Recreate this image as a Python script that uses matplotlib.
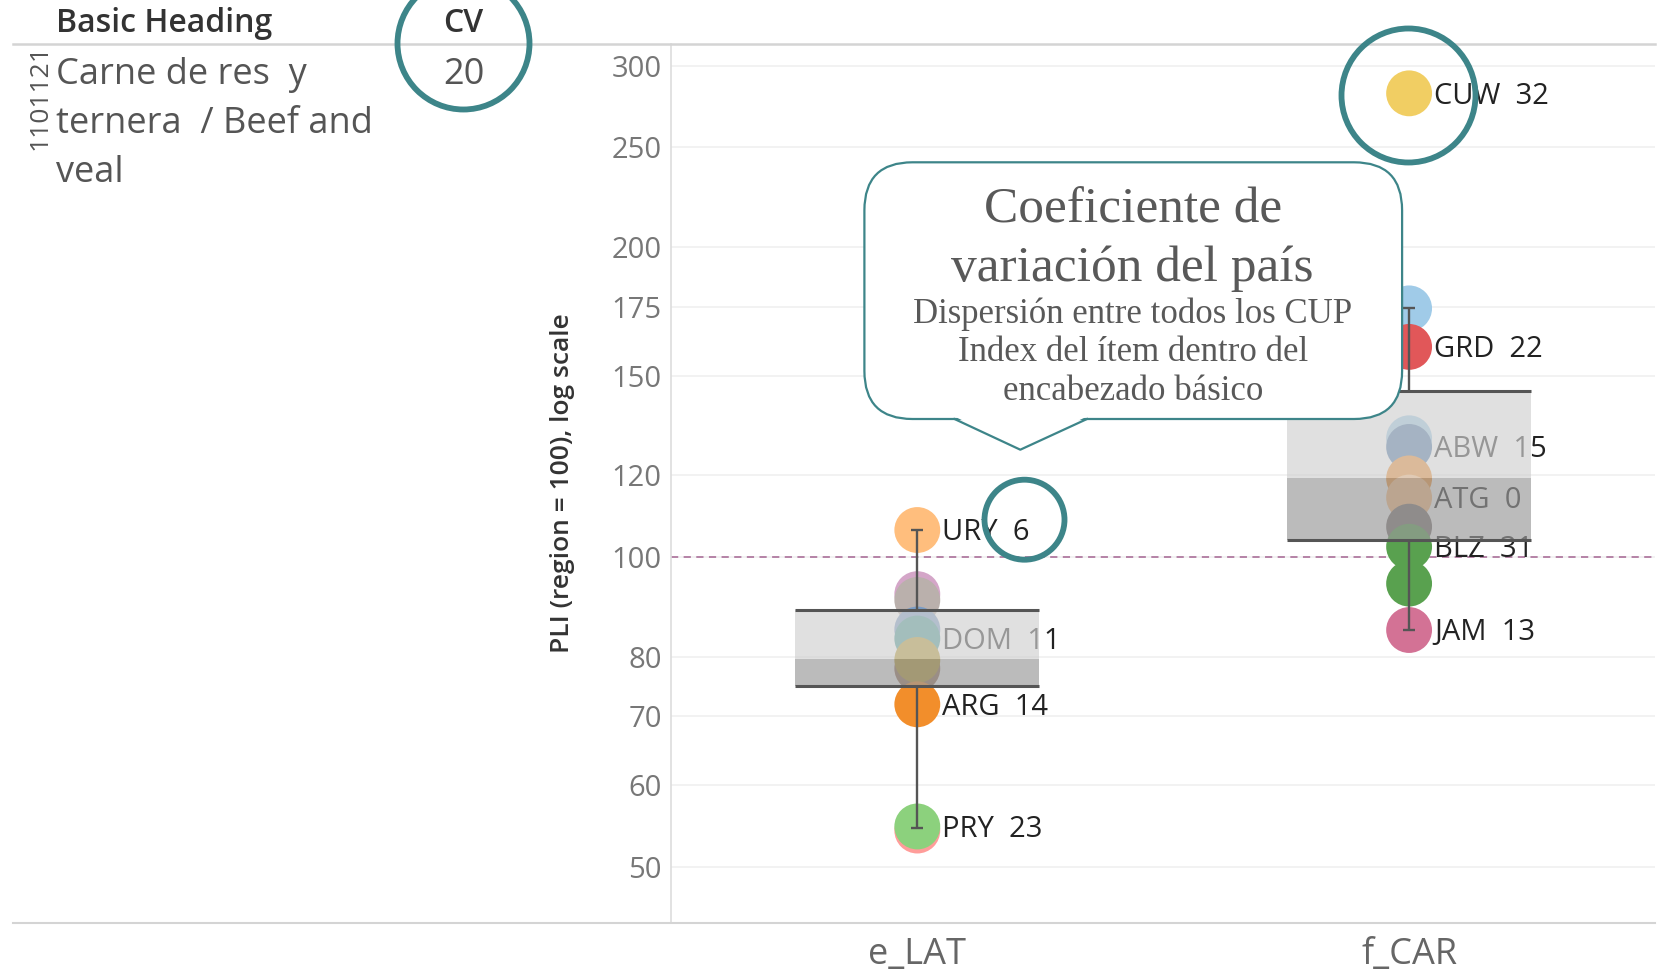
import numpy as np
import matplotlib
matplotlib.use("Agg")
import matplotlib.pyplot as plt
from matplotlib.patches import Circle, FancyBboxPatch, Polygon

plt.rcParams['font.family'] = ['Open Sans', 'DejaVu Sans']

# ---- data ----
categories = ["e_LAT", "f_CAR"]

lat_values = [106.2, 92.0, 90.8, 85.0, 83.3, 77.9, 79.4, 71.9, 54.2, 54.7]
lat_labels = ["URY  6", "", "", "", "DOM  11", "", "", "ARG  14", "", "PRY  23"]
lat_colors = ["#ffbe7d", "#d4a6c8", "#bab0ac", "#7a9cc6", "#499894",
              "#9d7660", "#b6992d", "#f28e2b", "#ff9d9a", "#8cd17d"]

car_values = [282.2, 174.4, 160.0, 130.4, 127.9, 119.2, 114.2, 107.0, 102.3, 94.2, 84.9]
car_labels = ["CUW  32", "", "GRD  22", "", "ABW  15", "", "ATG  0", "", "BLZ  31", "", "JAM  13"]
car_colors = ["#f1ce63", "#a0cbe8", "#e15759", "#a0cbe8", "#4e79a7", "#f28e2b",
              "#ffbe7d", "#79706e", "#59a14f", "#59a14f", "#d37295"]

# box plot stats: whisker low, q1, median, q3, whisker high
box_low = [54.5, 84.9]
box_q1 = [74.9, 103.8]
box_med = [79.5, 119.2]
box_q3 = [88.8, 144.9]
box_high = [106.2, 174.4]

y_ticks = [50, 60, 70, 80, 100, 120, 150, 175, 200, 250, 300]
ref_value = 100

heading = "Basic Heading"
cv_title = "CV"
cv_value = "20"
item_code = "1101121"
item_name = ["Carne de res  y", "ternera  / Beef and", "veal"]
callout_title = ["Coeficiente de", "variación del país"]
callout_sub = ["Dispersión entre todos los CUP", "Index del ítem dentro del", "encabezado básico"]

W, H = 1663, 975
fig = plt.figure(figsize=(W / 100, H / 100), dpi=100)
ax_l, ax_r, ax_t, ax_b = 671.4, 1655, 43.5, 922.7
ax = fig.add_axes([ax_l / W, (H - ax_b) / H, (ax_r - ax_l) / W, (ax_b - ax_t) / H])

ax.set_yscale('log')
ax.set_ylim(44.1, 315.5)
ax.set_xlim(-0.5, 1.5)
ax.set_yticks(y_ticks)
ax.set_yticklabels([str(t) for t in y_ticks])
ax.minorticks_off()
ax.tick_params(axis='y', length=0, pad=7, labelsize=21, labelcolor='#777777')
ax.set_xticks([0, 1])
ax.set_xticklabels(categories)
ax.tick_params(axis='x', length=0, pad=10, labelsize=26, labelcolor='#666666')
for sp in ['top', 'right', 'bottom']:
    ax.spines[sp].set_visible(False)
ax.spines['left'].set_color('#dddddd')
ax.spines['left'].set_linewidth(1.2)
for t in y_ticks:
    ax.axhline(t, color='#f0f0f0', lw=1.2, zorder=0)
ax.axhline(ref_value, color='#b07aa1', lw=1.3, ls=(0, (4, 3)), zorder=1)

ax.set_ylabel("PLI (region = 100), log scale", fontsize=19, color='#333333',
              fontweight='semibold', labelpad=26)

# dots and labels
for i, (vals, labs, cols) in enumerate([(lat_values, lat_labels, lat_colors),
                                        (car_values, car_labels, car_colors)]):
    ax.scatter([i] * len(vals), vals, s=1090, c=cols, linewidths=0, zorder=2)
    for v, lab in zip(vals, labs):
        if lab:
            ax.annotate(lab, (i, v), xytext=(18, -2), textcoords='offset points',
                        va='center', ha='left', fontsize=21, color='#222222', zorder=3)

# box plots (drawn over the dots, semi transparent)
hw = 0.248
cap = 0.012
for i in range(len(categories)):
    ax.fill_between([i - hw, i + hw], box_med[i], box_q3[i], color='#d1d1d1',
                    alpha=0.67, lw=0, zorder=4)
    ax.fill_between([i - hw, i + hw], box_q1[i], box_med[i], color='#9a9a9a',
                    alpha=0.67, lw=0, zorder=4)
    ax.hlines([box_q1[i], box_q3[i]], i - hw, i + hw, color='#555555', lw=2.2, zorder=5)
    ax.vlines(i, box_q3[i], box_high[i], color='#555555', lw=1.7, zorder=5)
    ax.vlines(i, box_low[i], box_q1[i], color='#555555', lw=1.7, zorder=5)
    ax.hlines([box_low[i], box_high[i]], i - cap, i + cap, color='#555555', lw=1.7, zorder=5)

# overlay in pixel coordinates for header and annotations
ov = fig.add_axes([0, 0, 1, 1])
ov.set_xlim(0, W)
ov.set_ylim(H, 0)
ov.axis('off')
ov.patch.set_alpha(0)

ov.plot([12.7, 1655], [43.5, 43.5], color='#d4d4d4', lw=1.8)
ov.plot([12.7, 1655], [922.7, 922.7], color='#d4d4d4', lw=1.5)

ov.text(56, 24, heading, fontsize=23, color='#333333', va='center', ha='left',
        fontweight='semibold')
ov.text(463.5, 24, cv_title, fontsize=23, color='#333333', va='center', ha='center',
        fontweight='semibold')
ov.text(463.5, 75, cv_value, fontsize=26, color='#555555', va='center', ha='center')
ov.text(40, 97, item_code, fontsize=19, color='#555555', rotation=90,
        va='center', ha='center')
for k, line in enumerate(item_name):
    ov.text(56, 75 + k * 48.8, line, fontsize=26, color='#555555', va='center', ha='left')

teal = '#3d8589'
for cx, cy, r in [(463.5, 43.5, 66), (1408.5, 95.5, 67), (1024.5, 519.7, 40)]:
    ov.add_patch(Circle((cx, cy), r, fill=False, ec=teal, lw=4.2, zorder=10))

# callout box
ov.add_patch(FancyBboxPatch((864.4, 162.3), 1402.1 - 864.4, 419 - 162.3,
                            boxstyle="round,pad=0,rounding_size=48",
                            fc='white', ec=teal, lw=1.6, zorder=11))
ov.add_patch(Polygon([(955.5, 417), (1086, 417), (1020.3, 448)], closed=True,
                     fc='white', ec='none', zorder=12))
ov.plot([954.5, 1020.3, 1087], [419, 449.7, 419], color=teal, lw=1.6, zorder=12)

serif = ['Liberation Serif', 'DejaVu Serif']
for k, line in enumerate(callout_title):
    ov.text(1132.7, 210 + k * 58.3, line, fontsize=37, color='#595959',
            ha='center', va='center', family=serif, zorder=13)
for k, line in enumerate(callout_sub):
    ov.text(1132.7, 314 + k * 38.6, line, fontsize=25, color='#595959',
            ha='center', va='center', family=serif, zorder=13)

fig.savefig("out.png", dpi=100)
